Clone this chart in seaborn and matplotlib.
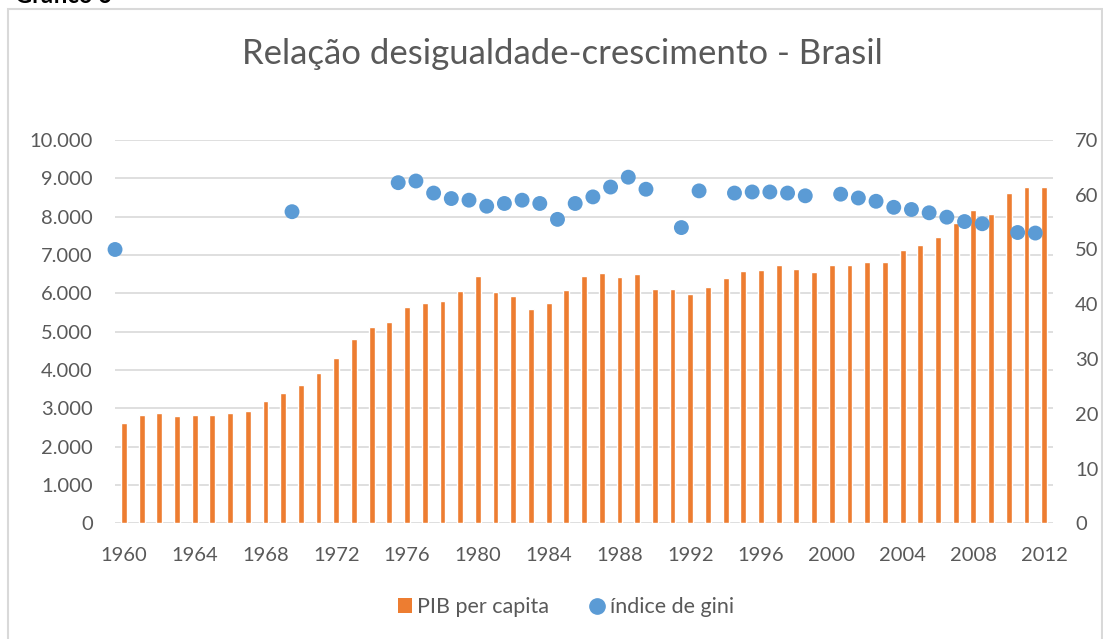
import numpy as np
import pandas as pd
import seaborn as sns
import matplotlib.pyplot as plt
from matplotlib.patches import Patch, Rectangle
from matplotlib.lines import Line2D
from matplotlib.ticker import FuncFormatter, MultipleLocator

# PIB per capita (bars), 1960-2012
years = list(range(1960, 2013))
pib = [2625, 2818, 2878, 2808, 2826, 2835, 2870, 2930, 3183, 3408,
       3617, 3930, 4305, 4800, 5113, 5252, 5635, 5756, 5800, 6053,
       6452, 6027, 5930, 5591, 5756, 6079, 6444, 6538, 6418, 6512,
       6113, 6105, 5982, 6165, 6400, 6582, 6617, 6739, 6643, 6556,
       6739, 6730, 6825, 6808, 7122, 7252, 7461, 7835, 8174, 8061,
       8609, 8766, 8782]

# índice de gini (dots)
gini_years = [1960, 1970, 1976, 1977, 1978, 1979, 1980, 1981, 1982, 1983,
              1984, 1985, 1986, 1987, 1988, 1989, 1990, 1992, 1993, 1995,
              1996, 1997, 1998, 1999, 2001, 2002, 2003, 2004, 2005, 2006,
              2007, 2008, 2009, 2011, 2012]
gini = [50.0, 56.9, 62.2, 62.5, 60.3, 59.3, 59.0, 57.9, 58.4, 59.0,
        58.4, 55.5, 58.4, 59.6, 61.4, 63.2, 61.0, 54.0, 60.7, 60.3,
        60.5, 60.5, 60.3, 59.8, 60.1, 59.4, 58.8, 57.7, 57.3, 56.7,
        55.9, 55.1, 54.7, 53.1, 53.0]

orange = "#ED7D31"
blue = "#5B9BD5"
grey_txt = "#595959"
grid_c = "#D9D9D9"
fs = 14.5

sns.set_style("white")
plt.rcParams["font.family"] = ["Lato", "DejaVu Sans"]

df_pib = pd.DataFrame({"ano": years, "pib": pib})
# Excel draws the scatter points at the left edge of each year slot
df_gini = pd.DataFrame({"ano": np.array(gini_years) - 0.5, "gini": gini})

fig = plt.figure(figsize=(11.03, 6.39), dpi=100)
ax = fig.add_axes([0.1043, 0.181, 0.8504, 0.6])

sns.barplot(data=df_pib, x="ano", y="pib", native_scale=True, width=0.33,
            color=orange, saturation=1, ax=ax, zorder=2)
ax.set_xlim(1959.5, 2012.5)
ax.set_ylim(0, 10000)
ax.yaxis.set_major_locator(MultipleLocator(1000))
ax.yaxis.set_major_formatter(FuncFormatter(lambda v, p: f"{int(v):,}".replace(",", ".")))
ax.set_xticks(list(range(1960, 2013, 4)))
ax.grid(axis="y", color=grid_c, lw=1.2, zorder=0)
ax.set_axisbelow(True)
ax.set_xlabel("")
ax.set_ylabel("")
for s in ax.spines.values():
    s.set_visible(False)
ax.tick_params(axis="both", length=0, labelsize=fs, colors=grey_txt)
ax.tick_params(axis="y", pad=16)
ax.tick_params(axis="x", pad=17)

ax2 = ax.twinx()
sns.scatterplot(data=df_gini, x="ano", y="gini", color=blue, s=115,
                edgecolor="none", ax=ax2, zorder=3, legend=False)
for c in ax2.collections:
    c.set_clip_on(False)
ax2.set_ylim(0, 70)
ax2.yaxis.set_major_locator(MultipleLocator(10))
ax2.set_xlim(1959.5, 2012.5)
ax2.set_ylabel("")
ax2.grid(False)
for s in ax2.spines.values():
    s.set_visible(False)
ax2.tick_params(axis="y", length=0, labelsize=fs, colors=grey_txt, pad=16)

fig.suptitle("Relação desigualdade-crescimento - Brasil", x=0.51, y=0.94,
             fontsize=25, color=grey_txt, fontweight="normal")

handles = [Patch(facecolor=orange, edgecolor="none", label="PIB per capita"),
           Line2D([], [], marker="o", color=blue, linestyle="none",
                  markersize=11, label="índice de gini")]
fig.legend(handles=handles, loc="center", bbox_to_anchor=(0.513, 0.05),
           ncol=2, frameon=False, fontsize=15.5, labelcolor=grey_txt,
           handlelength=0.65, handleheight=0.65, handletextpad=0.25,
           columnspacing=1.9)

# chart border and cropped caption, as in the source screenshot
fig.patches.append(Rectangle((0.0073, -0.01), 0.9917, 0.996, transform=fig.transFigure,
                             fill=False, edgecolor=grid_c, lw=1.5))
fig.text(0.0136, 1 - 3 / 639, "Gráfico 6", fontsize=17, fontweight="bold",
         va="baseline", ha="left", color="black")

fig.savefig("out.png", dpi=100)
